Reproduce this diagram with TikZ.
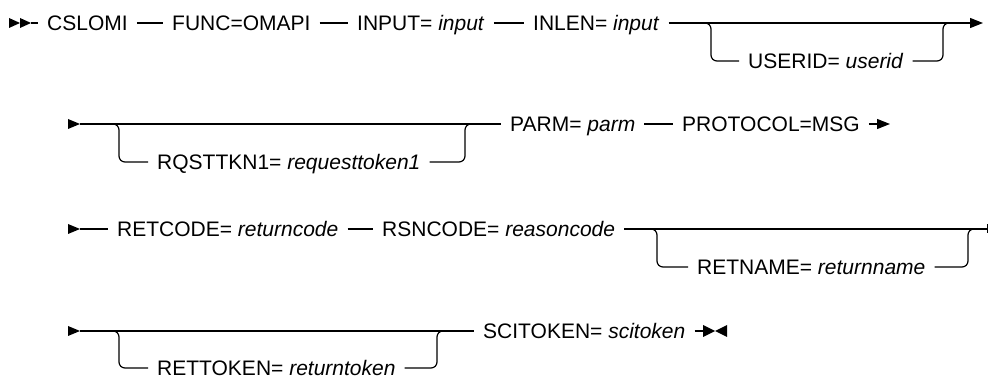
\documentclass[tikz,border=0pt]{standalone}
\usepackage{fontspec}
\setmainfont{Liberation Sans}
\usetikzlibrary{arrows.meta}
\begin{document}
\begin{tikzpicture}[x=1pt,y=-1pt,
  kw/.style={anchor=west, inner xsep=9pt, inner ysep=0pt, text height=15pt, text depth=0pt, font=\fontsize{21}{25}\selectfont},
  rail/.style={line width=1.2pt},
  branch/.style={line width=1.2pt, rounded corners=6pt},
  endarrow/.style={-{Triangle[length=13pt,width=10pt]}},
  endbar/.style={-{Bar[width=9pt,line width=1.4pt]}}]
\useasboundingbox (0,0) rectangle (997,379);

% ---------- Row 1 ----------
\fill (9,18) -- (20,23) -- (9,28) -- cycle;
\fill (20,18) -- (31,23) -- (20,28) -- cycle;
\coordinate (r1a) at (31,23);
\node[kw] (cslomi) at (38,23) {CSLOMI};
\node[kw] (func) at (163,23) {FUNC=OMAPI};
\node[kw] (input) at (348,23) {INPUT= \textit{input}};
\node[kw] (inlen) at (524,23) {INLEN= \textit{input}};
\node[kw] (userid) at (739,61) {USERID= \textit{userid}};
\coordinate (r1f) at (703,23);
\coordinate (r1j) at (949,23);
\coordinate (r1e) at (983,23);
\draw[rail] (r1a) -- (cslomi) -- (func) -- (input) -- (inlen);
\draw[rail,endarrow] (inlen) -- (r1e);
\draw[branch] (r1f) -| (711,61) -- (userid.west);
\draw[branch] (userid.east) -| (943,23) -- (r1j);

% ---------- Row 2 ----------
\fill (68,119) -- (80,124) -- (68,129) -- cycle;
\coordinate (r2a) at (80,124);
\node[kw] (rqst) at (148,162) {RQSTTKN1= \textit{requesttoken1}};
\node[kw] (parm) at (501,124) {PARM= \textit{parm}};
\node[kw] (proto) at (673,124) {PROTOCOL=MSG};
\coordinate (r2f) at (113,124);
\coordinate (r2j) at (471,124);
\coordinate (r2e) at (890,124);
\draw[rail] (r2a) -- (parm) -- (proto);
\draw[rail,endarrow] (proto) -- (r2e);
\draw[branch] (r2f) -| (119,162) -- (rqst.west);
\draw[branch] (rqst.east) -| (465,124) -- (r2j);

% ---------- Row 3 ----------
\fill (68,224) -- (80,229) -- (68,234) -- cycle;
\coordinate (r3a) at (80,229);
\node[kw] (retcode) at (108,229) {RETCODE= \textit{returncode}};
\node[kw] (rsncode) at (373,229) {RSNCODE= \textit{reasoncode}};
\node[kw] (retname) at (688,267) {RETNAME= \textit{returnname}};
\coordinate (r3f) at (650,229);
\coordinate (r3j) at (975,229);
\coordinate (r3e) at (988,229);
\draw[rail] (r3a) -- (retcode) -- (rsncode);
\draw[rail,endbar] (rsncode) -- (r3e);
\draw[branch] (r3f) -| (657,267) -- (retname.west);
\draw[branch] (retname.east) -| (968,229) -- (r3j);

% ---------- Row 4 ----------
\fill (68,326) -- (80,331) -- (68,336) -- cycle;
\coordinate (r4a) at (80,331);
\node[kw] (rettok) at (148,368) {RETTOKEN= \textit{returntoken}};
\node[kw] (scitok) at (474,331) {SCITOKEN= \textit{scitoken}};
\coordinate (r4f) at (113,331);
\coordinate (r4j) at (443,331);
\coordinate (r4e) at (703,331);
\draw[rail] (r4a) -- (scitok);
\draw[rail] (scitok) -- (r4e);
\fill (703,325) -- (715,331) -- (703,337) -- cycle;
\fill (727,325) -- (715,331) -- (727,337) -- cycle;
\draw[branch] (r4f) -| (119,368) -- (rettok.west);
\draw[branch] (rettok.east) -| (437,331) -- (r4j);
\end{tikzpicture}
\end{document}
